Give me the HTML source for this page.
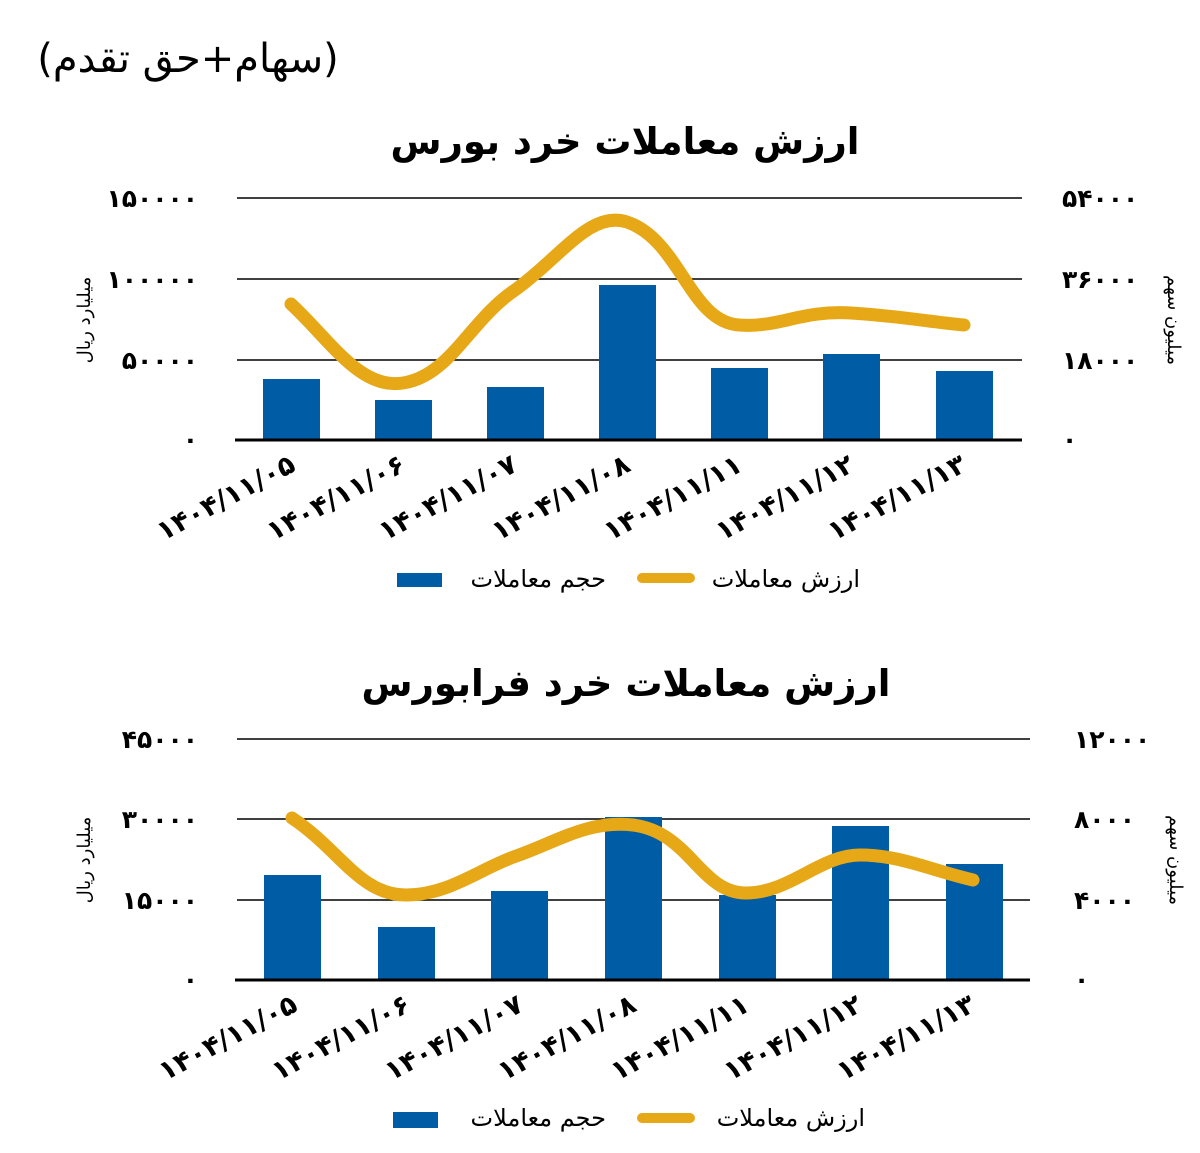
<!DOCTYPE html>
<html><head><meta charset="utf-8"><style>
body{margin:0;background:#fff;}
svg{display:block;font-family:"DejaVu Sans","Liberation Sans",sans-serif;}
</style></head><body>
<svg width="1200" height="1153" viewBox="0 0 1200 1153" xmlns="http://www.w3.org/2000/svg">
<text x="188" y="72" font-size="40" text-anchor="middle" direction="rtl">(سهام+حق تقدم)</text>

<!-- Chart 1 -->
<text x="625" y="154" font-size="37" font-weight="bold" text-anchor="middle" direction="rtl">ارزش معاملات خرد بورس</text>
<g stroke="#000" stroke-width="1.5">
<line x1="237" y1="198" x2="1022" y2="198"/><line x1="237" y1="279" x2="1022" y2="279"/><line x1="237" y1="360" x2="1022" y2="360"/>
</g>
<g fill="#005ca4">
<rect x="263" y="379" width="57" height="61"/><rect x="375" y="400" width="57" height="40"/><rect x="487" y="387" width="57" height="53"/>
<rect x="599" y="285" width="57" height="155"/><rect x="711" y="368" width="57" height="72"/><rect x="823" y="354" width="57" height="86"/><rect x="936" y="371" width="57" height="69"/>
</g>
<line x1="235" y1="440" x2="1022" y2="440" stroke="#000" stroke-width="3"/>
<path d="M291,304 C330,340 360,390 403,383 C450,376 470,320 515,290 C560,258 590,210 627,222 C680,240 690,322 739,325 C780,328 800,310 851,313 C900,316 930,322 964,325" fill="none" stroke="#e6a817" stroke-width="13" stroke-linecap="round"/>
<g font-size="25" font-weight="bold" text-anchor="end">
<text x="198" y="207">۱۵۰۰۰۰</text><text x="198" y="288">۱۰۰۰۰۰</text><text x="198" y="369">۵۰۰۰۰</text><text x="198" y="448">۰</text>
</g>
<g font-size="25" font-weight="bold">
<text x="1062" y="207">۵۴۰۰۰</text><text x="1062" y="288">۳۶۰۰۰</text><text x="1062" y="369">۱۸۰۰۰</text><text x="1062" y="448">۰</text>
</g>
<text transform="translate(90,320) rotate(-90)" font-size="18" text-anchor="middle" direction="rtl">میلیارد ریال</text>
<text transform="translate(1168,320) rotate(90)" font-size="18" text-anchor="middle" direction="rtl">میلیون سهم</text>
<g font-size="27" font-weight="bold" text-anchor="end">
<text transform="translate(297,470) rotate(-28)">۱۴۰۴/۱۱/۰۵</text>
<text transform="translate(407,470) rotate(-28)">۱۴۰۴/۱۱/۰۶</text>
<text transform="translate(519,470) rotate(-28)">۱۴۰۴/۱۱/۰۷</text>
<text transform="translate(632,470) rotate(-28)">۱۴۰۴/۱۱/۰۸</text>
<text transform="translate(744,470) rotate(-28)">۱۴۰۴/۱۱/۱۱</text>
<text transform="translate(856,470) rotate(-28)">۱۴۰۴/۱۱/۱۲</text>
<text transform="translate(968,470) rotate(-28)">۱۴۰۴/۱۱/۱۳</text>
</g>
<rect x="397" y="573" width="45" height="14" fill="#005ca4"/>
<text x="606" y="587" font-size="24" text-anchor="start" direction="rtl">حجم معاملات</text>
<line x1="642" y1="578" x2="690" y2="578" stroke="#e6a817" stroke-width="10" stroke-linecap="round"/>
<text x="860" y="587" font-size="24" text-anchor="start" direction="rtl">ارزش معاملات</text>

<!-- Chart 2 -->
<text x="626" y="696" font-size="37" font-weight="bold" text-anchor="middle" direction="rtl">ارزش معاملات خرد فرابورس</text>
<g stroke="#000" stroke-width="1.5">
<line x1="237" y1="739" x2="1030" y2="739"/><line x1="237" y1="819" x2="1030" y2="819"/><line x1="237" y1="900" x2="1030" y2="900"/>
</g>
<g fill="#005ca4">
<rect x="264" y="875" width="57" height="105"/><rect x="378" y="927" width="57" height="53"/><rect x="491" y="891" width="57" height="89"/>
<rect x="605" y="817" width="57" height="163"/><rect x="719" y="895" width="57" height="85"/><rect x="832" y="826" width="57" height="154"/><rect x="946" y="864" width="57" height="116"/>
</g>
<line x1="235" y1="980" x2="1030" y2="980" stroke="#000" stroke-width="3"/>
<path d="M292,818 C340,850 360,895 406,895 C450,895 480,868 519,855 C560,840 590,820 633,825 C690,832 700,893 746,893 C790,893 820,855 860,855 C900,855 930,870 973,880" fill="none" stroke="#e6a817" stroke-width="13" stroke-linecap="round"/>
<g font-size="25" font-weight="bold" text-anchor="end">
<text x="198" y="748">۴۵۰۰۰</text><text x="198" y="828">۳۰۰۰۰</text><text x="198" y="909">۱۵۰۰۰</text><text x="198" y="988">۰</text>
</g>
<g font-size="25" font-weight="bold">
<text x="1074" y="748">۱۲۰۰۰</text><text x="1074" y="828">۸۰۰۰</text><text x="1074" y="909">۴۰۰۰</text><text x="1074" y="988">۰</text>
</g>
<text transform="translate(90,860) rotate(-90)" font-size="18" text-anchor="middle" direction="rtl">میلیارد ریال</text>
<text transform="translate(1170,860) rotate(90)" font-size="18" text-anchor="middle" direction="rtl">میلیون سهم</text>
<g font-size="27" font-weight="bold" text-anchor="end">
<text transform="translate(299,1010) rotate(-28)">۱۴۰۴/۱۱/۰۵</text>
<text transform="translate(412,1010) rotate(-28)">۱۴۰۴/۱۱/۰۶</text>
<text transform="translate(525,1010) rotate(-28)">۱۴۰۴/۱۱/۰۷</text>
<text transform="translate(638,1010) rotate(-28)">۱۴۰۴/۱۱/۰۸</text>
<text transform="translate(751,1010) rotate(-28)">۱۴۰۴/۱۱/۱۱</text>
<text transform="translate(864,1010) rotate(-28)">۱۴۰۴/۱۱/۱۲</text>
<text transform="translate(977,1010) rotate(-28)">۱۴۰۴/۱۱/۱۳</text>
</g>
<rect x="393" y="1112" width="45" height="16" fill="#005ca4"/>
<text x="606" y="1126" font-size="24" text-anchor="start" direction="rtl">حجم معاملات</text>
<line x1="642" y1="1118" x2="690" y2="1118" stroke="#e6a817" stroke-width="10" stroke-linecap="round"/>
<text x="865" y="1126" font-size="24" text-anchor="start" direction="rtl">ارزش معاملات</text>
</svg>
</body></html>
